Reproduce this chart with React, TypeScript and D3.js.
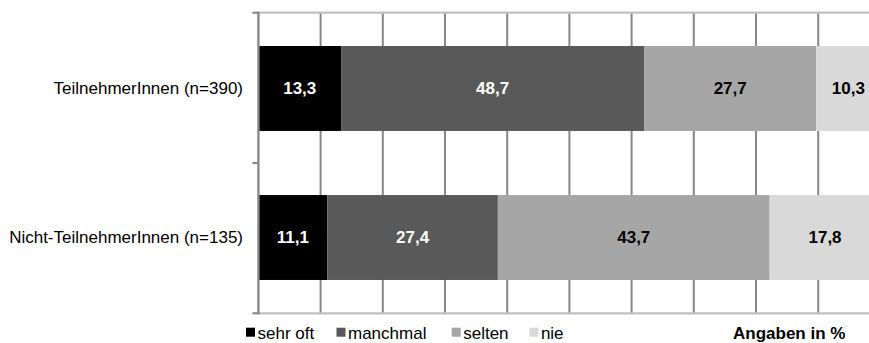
import React from "react";
import * as d3 from "d3";

const categories = ["TeilnehmerInnen (n=390)", "Nicht-TeilnehmerInnen (n=135)"];
const seriesNames = ["sehr oft", "manchmal", "selten", "nie"];
const sehrOft = [13.3, 11.1];
const manchmal = [48.7, 27.4];
const selten = [27.7, 43.7];
const nie = [10.3, 17.8];
const xTicks = [0, 10, 20, 30, 40, 50, 60, 70, 80, 90, 100];
const unitLabel = "Angaben in %";

const colors = ["#000000", "#595959", "#a6a6a6", "#d9d9d9"];
const labelColors = ["#ffffff", "#ffffff", "#000000", "#000000"];
const FONT = "'Liberation Sans', Arial, sans-serif";

export default function App() {
  const W = 869;
  const H = 343;
  const x = d3.scaleLinear().domain([0, 100]).range([258.4, 880.4]);
  const y = d3
    .scaleBand<string>()
    .domain(categories)
    .range([12.7, 313.3])
    .paddingInner(0.43)
    .paddingOuter(0.2236);

  const table = categories.map((c, i) => ({
    cat: c,
    "sehr oft": sehrOft[i],
    manchmal: manchmal[i],
    selten: selten[i],
    nie: nie[i],
  }));
  const stacked = d3.stack<any>().keys(seriesNames)(table);

  const [y0, y1] = y.range();
  const fmt = (v: number) => v.toFixed(1).replace(".", ",");

  const legendX = [246, 336.5, 451.7, 529.4];

  return (
    <svg
      width={W}
      height={H}
      style={{ position: "absolute", left: 0, top: 0, background: "#fff" }}
      fontFamily={FONT}
    >
      {/* vertical gridlines */}
      {xTicks.slice(1).map((t) => (
        <line key={t} x1={x(t)} x2={x(t)} y1={y0} y2={y1} stroke="#878787" strokeWidth={2} />
      ))}
      {/* top / bottom border lines */}
      <line x1={x(0)} x2={W} y1={y0} y2={y0} stroke="#c0c0c0" strokeWidth={2.2} />
      <line x1={x(0)} x2={W} y1={y1} y2={y1} stroke="#c0c0c0" strokeWidth={2.2} />

      {/* bars */}
      {stacked.map((s, si) =>
        s.map((d, i) => (
          <rect
            key={`${si}-${i}`}
            x={x(d[0])}
            width={x(d[1]) - x(d[0])}
            y={y(categories[i])}
            height={y.bandwidth()}
            fill={colors[si]}
          />
        ))
      )}
      {/* value labels */}
      {stacked.map((s, si) =>
        s.map((d, i) => (
          <text
            key={`l-${si}-${i}`}
            x={(x(d[0]) + x(d[1])) / 2}
            y={(y(categories[i]) as number) + y.bandwidth() / 2}
            dy="0.35em"
            textAnchor="middle"
            fontWeight="bold"
            fontSize={17}
            fill={labelColors[si]}
          >
            {fmt(d[1] - d[0])}
          </text>
        ))
      )}

      {/* left axis */}
      <line x1={x(0)} x2={x(0)} y1={y0 - 1} y2={y1 + 1} stroke="#8a8a8a" strokeWidth={2.4} />
      {[y0, (y0 + y1) / 2, y1].map((v, i) => (
        <line key={i} x1={x(0) - 6} x2={x(0)} y1={v} y2={v} stroke="#8a8a8a" strokeWidth={2.2} />
      ))}

      {/* category labels */}
      {categories.map((c) => (
        <text
          key={c}
          x={243}
          y={(y(c) as number) + y.bandwidth() / 2}
          dy="0.35em"
          textAnchor="end"
          fontSize={17}
          fill="#000"
        >
          {c}
        </text>
      ))}

      {/* legend */}
      {seriesNames.map((n, i) => (
        <g key={n}>
          <rect x={legendX[i]} y={327.7} width={9} height={9} fill={colors[i]} />
          <text x={legendX[i] + 11.5} y={338.5} fontSize={17} fill="#000">
            {n}
          </text>
        </g>
      ))}
      <text x={733} y={338.5} fontSize={17} fontWeight="bold" fill="#000">
        {unitLabel}
      </text>
    </svg>
  );
}
